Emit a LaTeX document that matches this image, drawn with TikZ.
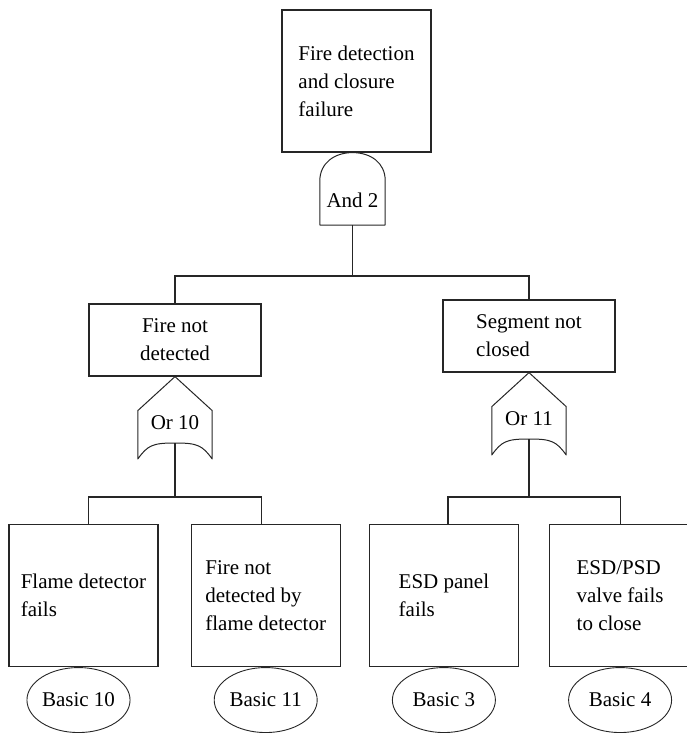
\documentclass[tikz,border=0pt]{standalone}
\usepackage{fontspec}
\setmainfont{Liberation Serif}
\usepackage{xcolor}
\usepackage{tikz}
\usetikzlibrary{shapes.geometric,positioning,calc}

\begin{document}
\begin{tikzpicture}[
    x=1pt, y=1pt,
    event/.style = {
        rectangle,
        draw=black!85,
        line width=1.2pt,
        minimum width=149pt,
        minimum height=142pt,
        inner sep=2pt,
        font=\fontsize{21}{28}\selectfont
    },
    mid_event/.style = {
        event,
        minimum width=172pt,
        minimum height=72pt
    },
    basic/.style = {
        ellipse,
        draw=black!85,
        line width=0.9pt,
        minimum width=103pt,
        minimum height=65pt,
        inner sep=0pt,
        font=\fontsize{21}{28}\selectfont
    },
    gate/.style = {
        rectangle,
        inner sep=0pt,
        minimum width=74pt,
        minimum height=82pt
    },
    gate_line/.style = {
        draw=black!85,
        line width=1pt,
        line join=round
    },
    gate_text/.style = {
        inner sep=0pt,
        font=\fontsize{21}{28}\selectfont
    },
    wire/.style = {
        line width=1.2pt,
        draw=black!85
    }
]
    \useasboundingbox (0,0) rectangle (686,-733);

    % Node Definitions
    \node [event, align=left] (top_event) at (356.5,-81) {Fire detection\\and closure\\failure};
    \node [gate, minimum width=65pt, minimum height=72pt, below=0pt of top_event, xshift=-4pt] (and_2) {};
    \node [gate_text] (and_2_txt) at ([yshift=-12pt]and_2.center) {And 2};

    \node [mid_event, align=center] (fire_nd) at (175,-340) {Fire not\\detected};
    \node [gate, below=0pt of fire_nd] (or_10) {};
    \node [gate_text] (or_10_txt) at ([yshift=-5pt]or_10.center) {Or 10};

    \node [mid_event, align=left] (seg_nc) at (529,-336) {Segment not\\closed};
    \node [gate, below=0pt of seg_nc] (or_11) {};
    \node [gate_text] (or_11_txt) at ([yshift=-5pt]or_11.center) {Or 11};

    \node [event, align=left] (flame_df) at (83.5,-595.5) {Flame detector\\fails};
    \node [event, align=left, right=32pt of flame_df] (flame_nd) {Fire not\\detected by\\flame detector};
    \node [event, align=left, right=28pt of flame_nd] (esd_pf) {ESD panel\\fails};
    \node [event, align=left, minimum width=141pt, right=30pt of esd_pf] (valve_fc) {ESD/PSD\\valve fails\\to close};

    \node [basic, below=0pt of flame_df, xshift=-5pt] (basic_10) {Basic 10};
    \node [basic, below=0pt of flame_nd] (basic_11) {Basic 11};
    \node [basic, below=0pt of esd_pf] (basic_3) {Basic 3};
    \node [basic, below=0pt of valve_fc] (basic_4) {Basic 4};

    % Gate outlines
    \draw [gate_line] (and_2.south west) -- ++(0,44)
        .. controls +(0,18) and +(-18,0) .. (and_2.north)
        .. controls +(18,0) and +(0,18) .. ([yshift=-28pt]and_2.north east)
        -- (and_2.south east) -- cycle;
    \draw [gate_line] (or_10.north) -- ([yshift=-34pt]or_10.north west) -- (or_10.south west)
        .. controls +(10,14) and +(-22,0) .. ([yshift=16pt]or_10.south)
        .. controls +(22,0) and +(-10,14) .. (or_10.south east)
        -- ([yshift=-34pt]or_10.north east) -- cycle;
    \draw [gate_line] (or_11.north) -- ([yshift=-34pt]or_11.north west) -- (or_11.south west)
        .. controls +(10,14) and +(-22,0) .. ([yshift=16pt]or_11.south)
        .. controls +(22,0) and +(-10,14) .. (or_11.south east)
        -- ([yshift=-34pt]or_11.north east) -- cycle;

    % Lines connecting nodes
    \draw [wire] (and_2.south) -- ++(0,-51) coordinate (j_top);
    \draw [wire] (j_top) -| (fire_nd.north);
    \draw [wire] (j_top) -| (seg_nc.north);

    \draw [wire] ([yshift=16pt]or_10.south) -- ++(0,-54) coordinate (j_10);
    \draw [wire] (j_10) -| ([xshift=5pt]flame_df.north);
    \draw [wire] (j_10) -| ([xshift=-4pt]flame_nd.north);

    \draw [wire] ([yshift=16pt]or_11.south) -- ++(0,-58) coordinate (j_11);
    \draw [wire] (j_11) -| ([xshift=4pt]esd_pf.north);
    \draw [wire] (j_11) -| (valve_fc.north);

\end{tikzpicture}
\end{document}
